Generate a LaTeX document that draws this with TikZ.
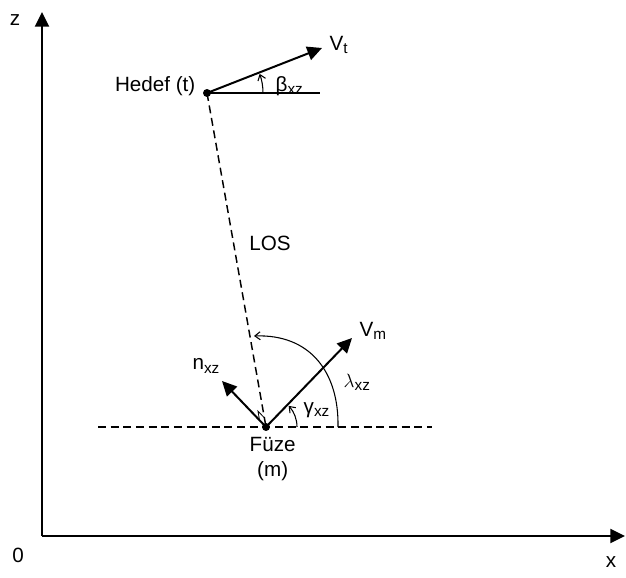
\documentclass[tikz,border=0pt]{standalone}
\usepackage{fontspec}
\setmainfont{Liberation Sans}
\usepackage{tikz}
\usetikzlibrary{arrows.meta,positioning,calc}
\newcommand{\idx}[1]{\raisebox{-0.3ex}{\fontsize{11.5}{12}\selectfont #1}}

\begin{document}
\begin{tikzpicture}[x=0.0264cm, y=0.0264cm, font=\fontsize{15.5}{18}\selectfont,
    vec/.style={line width=1.5pt, -{Triangle[length=11pt,width=10.5pt]}},
    losline/.style={line width=1.1pt, dash pattern=on 6pt off 3.5pt},
    anglearc/.style={line width=0.8pt, -{Straight Barb[length=4pt,width=6pt]}},
    dot/.style={circle, fill=black, inner sep=0pt, minimum size=6pt}]
    \useasboundingbox (0,0) rectangle (626,577);

    % axes
    \coordinate (origin) at (42,41);
    \coordinate (zend) at (42,565);
    \coordinate (xend) at (625,41);
    \draw [vec] (origin) -- (zend);
    \draw [vec] (origin) -- (xend);
    \node (zlabel) at (15,557) {z};
    \node (olabel) at (18,22) {0};
    \node (xlabel) at (611,15) {x};

    % target
    \node [dot] (hedef) at (207,484) {};
    \node [anchor=east] (hedeflabel) at (200,491) {Hedef (t)};
    \coordinate (hedefref) at (320,484);
    \coordinate (vttip) at (322,529);
    \draw [line width=1.1pt] (hedef.center) -- (hedefref);
    \draw [vec] (hedef.center) -- (vttip);
    \node [anchor=west] (vtlabel) at (325,532) {V\idx{t}};
    \draw [anglearc] ($(hedef.center)+(56,0)$) arc[start angle=0, end angle=20, radius=56];
    \node [anchor=west] (betalabel) at (271,491) {β\idx{xz}};

    % missile
    \node [dot] (fuze) at (266,150) {};
    \node [below=1pt of fuze, xshift=5pt, align=center] (fuzelabel) {Füze\\[1pt](m)};
    \coordinate (refleft) at (98,150);
    \coordinate (refright) at (432,150);
    \draw [losline] (refleft) -- (refright);
    \draw [losline] (hedef.center) -- (fuze.center);
    \node (loslabel) at (270,334) {LOS};

    \coordinate (vmtip) at (352,239);
    \coordinate (ntip) at (222,196);
    \draw [vec] (fuze.center) -- (vmtip);
    \draw [vec] (fuze.center) -- (ntip);
    \node [anchor=west] (vmlabel) at (355,246) {V\idx{m}};
    \node (nlabel) at (206,211) {n\idx{xz}};

    % angles at the missile
    \draw [anglearc] ($(fuze.center)+(31,0)$) arc[start angle=0, end angle=43, radius=31];
    \node [anchor=west] (gammalabel) at (299,167) {γ\idx{xz}};
    \draw [anglearc] ($(fuze.center)+(72,0)$) .. controls (339,205) and (310,243) .. (254,241);
    \node [anchor=west] (lambdalabel) at (339,195) {$\lambda$\idx{xz}};
    \coordinate (markl) at ($(fuze.center)!7pt!(hedef.center)$);
    \coordinate (markn) at ($(fuze.center)!7pt!(ntip)$);
    \draw [line width=0.6pt] (markl) -- ($(markl)+(markn)-(fuze.center)$) -- (markn);
\end{tikzpicture}
\end{document}
